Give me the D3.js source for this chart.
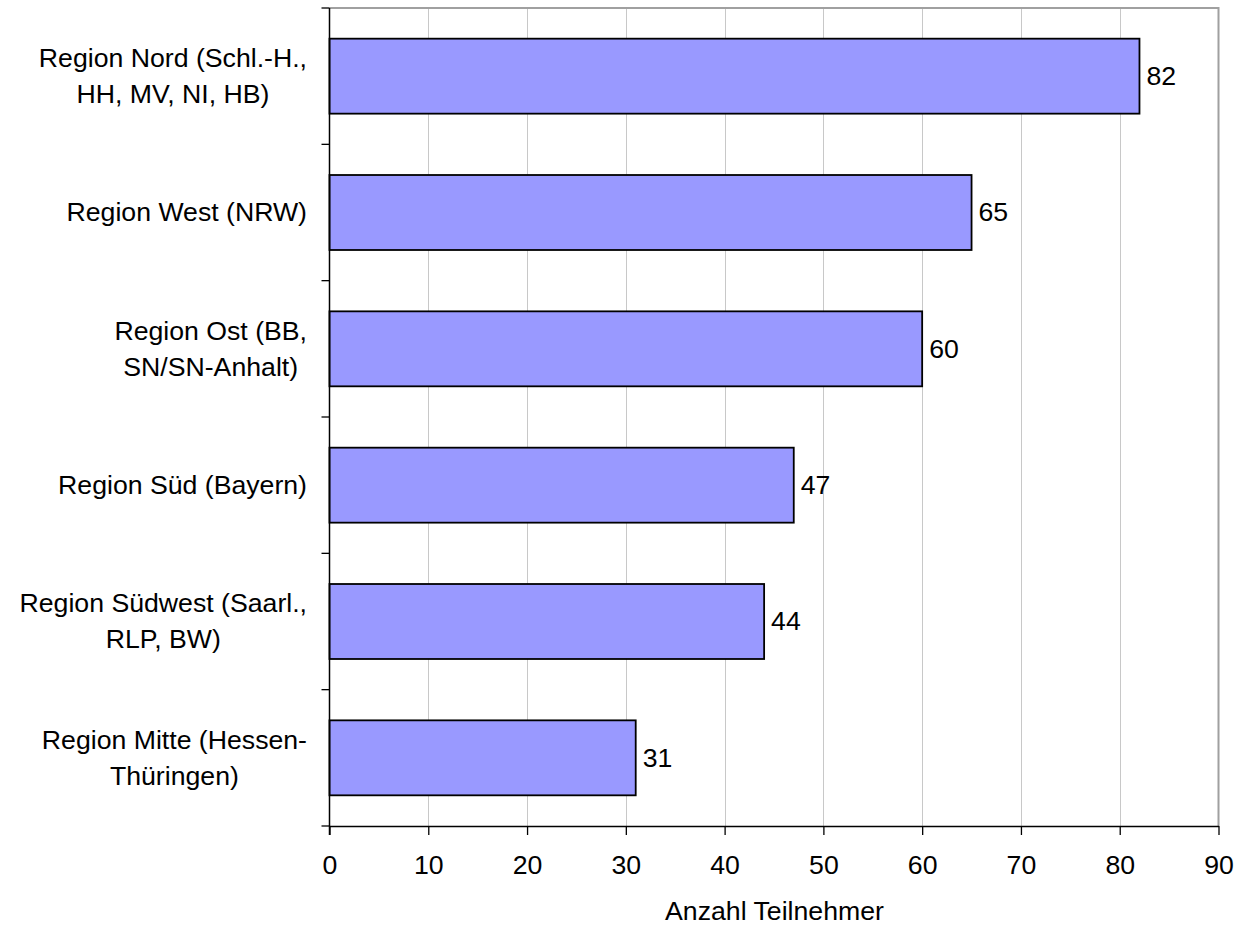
<!DOCTYPE html>
<html>
<head>
<meta charset="utf-8">
<script src="https://cdn.jsdelivr.net/npm/d3@7"></script>
<style>
  html, body { margin: 0; padding: 0; background: #fff; }
  svg { display: block; font-family: "Liberation Sans", Arial, sans-serif; }
</style>
</head>
<body>
<svg id="chart" width="1236" height="926"></svg>
<script>
const categories = [
  ["Region Nord (Schl.-H.,", "HH, MV, NI, HB)"],
  ["Region West (NRW)"],
  ["Region Ost (BB,", "SN/SN-Anhalt)"],
  ["Region Süd (Bayern)"],
  ["Region Südwest (Saarl.,", "RLP, BW)"],
  ["Region Mitte (Hessen-", "Thüringen)"]
];
const values = [82, 65, 60, 47, 44, 31];
const xTicks = [0, 10, 20, 30, 40, 50, 60, 70, 80, 90];
const xTitle = "Anzahl Teilnehmer";

const svg = d3.select("#chart");
const pLeft = 329.5, pRight = 1218.5, pTop = 8, pBottom = 826;
const fontSize = 26.67;

const x = d3.scaleLinear().domain([0, 90]).range([pLeft, pRight]);
const ids = d3.range(categories.length);
const y = d3.scaleBand().domain(ids).range([pTop, pBottom]).paddingInner(0.45).paddingOuter(0.225);
const step = y.step();

// gridlines
svg.append("g").selectAll("line").data(xTicks.filter(t => t > 0 && t < 90)).join("line")
  .attr("x1", d => Math.round(x(d)) + 0.5).attr("x2", d => Math.round(x(d)) + 0.5)
  .attr("y1", pTop).attr("y2", pBottom)
  .attr("stroke", "#c8c8c8").attr("stroke-width", 1);

// plot border (top/right)
svg.append("path")
  .attr("d", `M${pLeft},${pTop}H${pRight}V${pBottom}`)
  .attr("fill", "none").attr("stroke", "#a0a0a0").attr("stroke-width", 2);

// bars
svg.append("g").selectAll("rect").data(values).join("rect")
  .attr("x", x(0))
  .attr("y", (d, i) => y(i))
  .attr("width", d => x(d) - x(0))
  .attr("height", y.bandwidth())
  .attr("fill", "#9999ff")
  .attr("stroke", "#000").attr("stroke-width", 1.8);

// value labels
svg.append("g").selectAll("text").data(values).join("text")
  .attr("x", d => x(d) + 7)
  .attr("y", (d, i) => y(i) + y.bandwidth() / 2)
  .attr("dy", "0.33em")
  .attr("font-size", fontSize)
  .attr("fill", "#000")
  .text(d => d);

// x axis
const xAxis = d3.axisBottom(x).tickValues(xTicks).tickSize(9).tickPadding(20).tickSizeOuter(0);
const gx = svg.append("g").attr("transform", `translate(0,${pBottom})`).call(xAxis);
gx.select(".domain").attr("stroke", "#000").attr("stroke-width", 1.5);
gx.selectAll(".tick line").attr("stroke", "#000").attr("stroke-width", 1.3);
gx.selectAll(".tick text").attr("font-size", fontSize).attr("fill", "#000")
  .attr("font-family", "Liberation Sans, Arial, sans-serif");

// y axis with boundary ticks
const bounds = d3.range(categories.length + 1).map(i => pTop + i * step);
svg.append("line").attr("x1", pLeft).attr("x2", pLeft).attr("y1", pTop).attr("y2", pBottom + 9)
  .attr("stroke", "#000").attr("stroke-width", 1.5);
svg.append("g").selectAll("line").data(bounds).join("line")
  .attr("x1", pLeft - 8).attr("x2", pLeft)
  .attr("y1", d => d).attr("y2", d => d)
  .attr("stroke", "#000").attr("stroke-width", 1.3);

// category labels (centered block, right-aligned widest line)
const lineGap = 36;
const labelRight = 307;
const lg = svg.append("g");
categories.forEach((lines, i) => {
  const cy = y(i) + y.bandwidth() / 2;
  const t = lg.append("text").attr("font-size", fontSize).attr("fill", "#000").attr("text-anchor", "middle");
  const n = lines.length;
  lines.forEach((s, k) => {
    t.append("tspan").attr("y", cy + (k - (n - 1) / 2) * lineGap).attr("dy", "0.33em").text(s);
  });
  let maxW = 0;
  t.selectAll("tspan").each(function() { maxW = Math.max(maxW, this.getComputedTextLength()); });
  t.selectAll("tspan").attr("x", labelRight - maxW / 2);
});

// axis title
svg.append("text")
  .attr("x", (pLeft + pRight) / 2 + 0.5)
  .attr("y", 920)
  .attr("text-anchor", "middle")
  .attr("font-size", fontSize)
  .attr("fill", "#000")
  .text(xTitle);
</script>
</body>
</html>
